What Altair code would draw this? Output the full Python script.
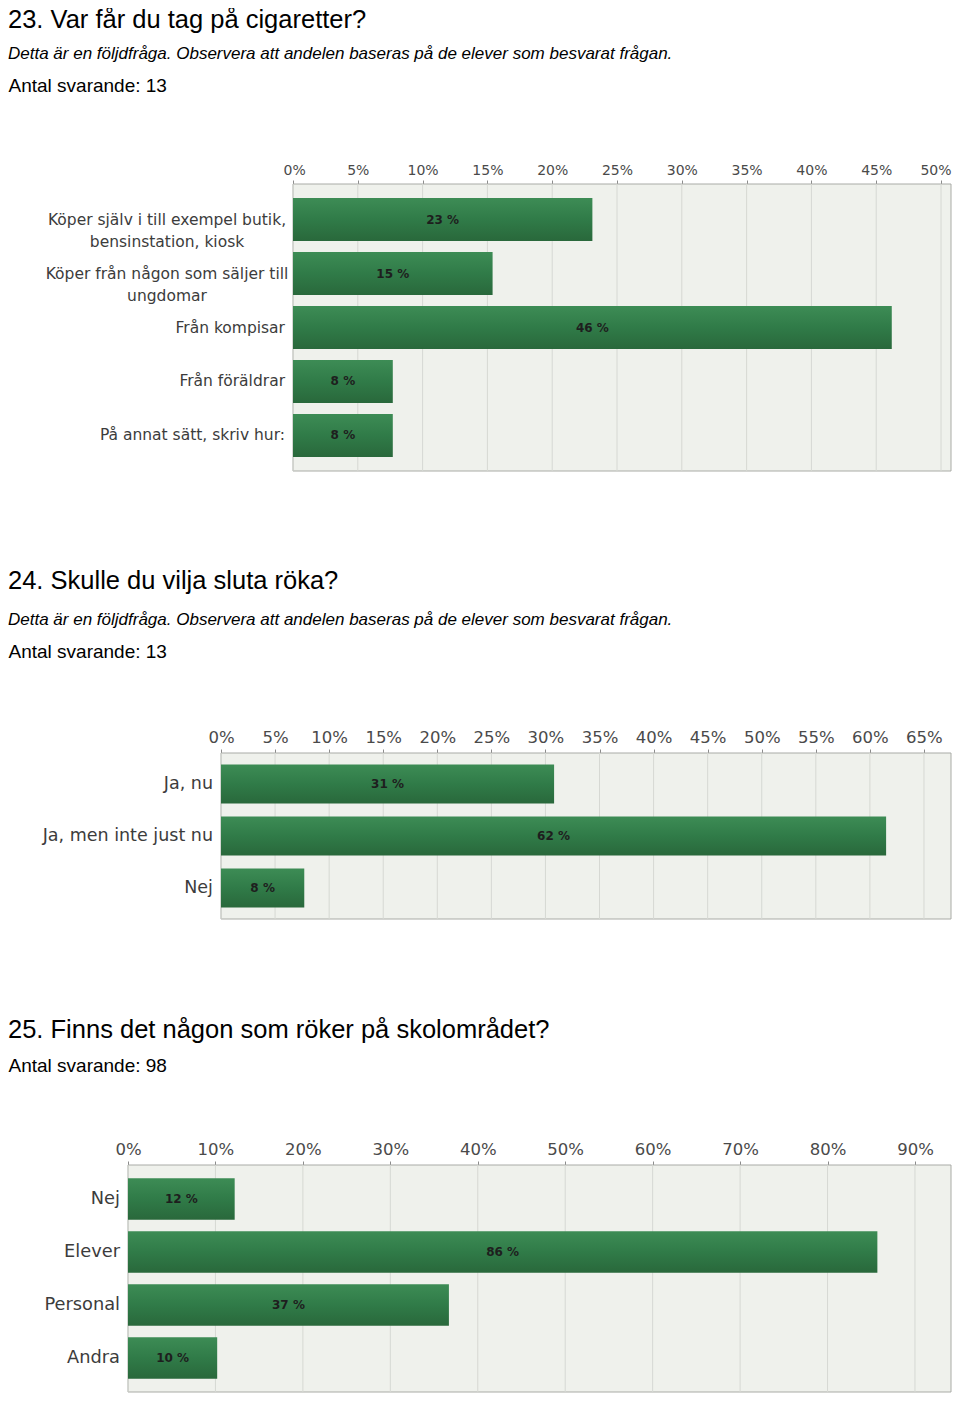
import altair as alt
import pandas as pd

# ---------------- data ----------------
q23_title = "23. Var får du tag på cigaretter?"
q23_note = "Detta är en följdfråga. Observera att andelen baseras på de elever som besvarat frågan."
q23_count = "Antal svarande: 13"
q23_categories = [
    "Köper själv i till exempel butik, bensinstation, kiosk",
    "Köper från någon som säljer till ungdomar",
    "Från kompisar",
    "Från föräldrar",
    "På annat sätt, skriv hur:",
]
q23_values = [23.1, 15.4, 46.2, 7.7, 7.7]
q23_ticks = [0, 5, 10, 15, 20, 25, 30, 35, 40, 45, 50]

q24_title = "24. Skulle du vilja sluta röka?"
q24_note = "Detta är en följdfråga. Observera att andelen baseras på de elever som besvarat frågan."
q24_count = "Antal svarande: 13"
q24_categories = ["Ja, nu", "Ja, men inte just nu", "Nej"]
q24_values = [30.8, 61.5, 7.7]
q24_ticks = [0, 5, 10, 15, 20, 25, 30, 35, 40, 45, 50, 55, 60, 65]

q25_title = "25. Finns det någon som röker på skolområdet?"
q25_count = "Antal svarande: 98"
q25_categories = ["Nej", "Elever", "Personal", "Andra"]
q25_values = [12.2, 85.7, 36.7, 10.2]
q25_ticks = [0, 10, 20, 30, 40, 50, 60, 70, 80, 90]

q23_label_lines = {
    q23_categories[0]: ["Köper själv i till exempel butik,", "bensinstation, kiosk"],
    q23_categories[1]: ["Köper från någon som säljer till", "ungdomar"],
}

# ---------------- styles ----------------
TITLE_FONT = "Liberation Sans, Arial, sans-serif"
AXIS_FONT = "DejaVu Sans, Verdana, sans-serif"
TOTAL_W = 943  # all panels share the same group origin / width

bar_fill = alt.Gradient(
    gradient="linear",
    stops=[
        alt.GradientStop(color="#3d8c55", offset=0),
        alt.GradientStop(color="#307b48", offset=0.5),
        alt.GradientStop(color="#29683b", offset=1),
    ],
    x1=0, x2=0, y1=0, y2=1,
)


def make_chart(title, note, count, cats, vals, ticks, xmax, plot_left, height,
               pad_inner, pad_outer, ylab_size, xlab_size, xlab_pad,
               title_y, sub_pad, offset, label_map=None, multi_dx=-126,
               flush=False):
    label_map = label_map or {}
    lines = [label_map.get(c, [c]) for c in cats]
    df = pd.DataFrame({
        "cat": cats,
        "pct": vals,
        "lines": lines,
        "multi": [len(l) > 1 for l in lines],
    })
    panel_df = pd.DataFrame({"start": [0.0], "end": [xmax]})
    tick_df = pd.DataFrame({"t": ticks})

    x_scale = alt.Scale(domain=[0, xmax], nice=False, zero=True,
                        range=[plot_left - 8, TOTAL_W])
    y_scale = alt.Scale(paddingInner=pad_inner, paddingOuter=pad_outer)
    flush_kwargs = dict(labelFlush=13, labelFlushOffset=10) if flush else dict(labelFlush=False)
    x_axis = alt.Axis(
        orient="top", values=ticks, labelExpr="datum.value + '%'",
        title=count, titleX=0, titleY=title_y, titleAlign="left",
        titleBaseline="middle", titleFont=TITLE_FONT, titleFontSize=19,
        titleFontWeight="normal", titleColor="#000000", titleAngle=0,
        grid=False, ticks=True, tickSize=4, tickColor="#8c8c8c", domain=False,
        labelFont=AXIS_FONT, labelFontSize=xlab_size, labelColor="#4a4a4a",
        labelPadding=xlab_pad, labelOverlap=False, **flush_kwargs,
    )
    y_enc = alt.Y("cat:N", sort=cats, scale=y_scale, axis=None)

    panel = alt.Chart(panel_df).mark_rect(
        fill="#eff1ec", stroke="#a9aba6", strokeWidth=1
    ).encode(
        x=alt.X("start:Q", scale=x_scale, axis=x_axis),
        x2="end:Q",
    )
    grid = alt.Chart(tick_df).mark_rule(color="#d6d8d3", strokeWidth=1).encode(
        x=alt.X("t:Q", scale=x_scale, axis=x_axis),
    )
    base = alt.Chart(df).transform_calculate(
        mid="datum.pct / 2",
        label="round(datum.pct) + ' %'",
    )
    bars = base.mark_bar(color=bar_fill).encode(
        x=alt.X("pct:Q", scale=x_scale, axis=x_axis),
        y=y_enc,
    )
    values = base.mark_text(
        font=AXIS_FONT, fontSize=12, fontWeight="bold", color="#1e1e1e",
        baseline="middle", align="center",
    ).encode(
        x=alt.X("mid:Q", scale=x_scale, axis=x_axis),
        y=y_enc,
        text="label:N",
    )
    cat_single = base.transform_filter("!datum.multi").mark_text(
        font=AXIS_FONT, fontSize=ylab_size, color="#3c3c3c",
        baseline="middle", align="right", dx=-8,
    ).encode(
        x=alt.datum(0, scale=x_scale, axis=x_axis),
        y=y_enc,
        text="cat:N",
    )
    layers = [panel, grid, bars, values, cat_single]
    if any(df["multi"]):
        cat_multi = base.transform_filter("datum.multi").mark_text(
            font=AXIS_FONT, fontSize=ylab_size, color="#3c3c3c",
            baseline="middle", align="center", dx=multi_dx, lineHeight=22,
        ).encode(
            x=alt.datum(0, scale=x_scale, axis=x_axis),
            y=y_enc,
            text="lines:N",
        )
        layers.append(cat_multi)

    title_kwargs = dict(
        text=title, anchor="start", frame="bounds", font=TITLE_FONT,
        fontSize=25.5, fontWeight="normal", color="#000000", offset=offset,
    )
    if note:
        title_kwargs.update(
            subtitle=note, subtitleFont=TITLE_FONT, subtitleFontSize=17,
            subtitleFontStyle="italic", subtitleColor="#000000",
            subtitlePadding=sub_pad,
        )
    return alt.layer(*layers).properties(
        width=TOTAL_W, height=height, title=alt.TitleParams(**title_kwargs)
    )


c1 = make_chart(q23_title, q23_note, q23_count, q23_categories, q23_values, q23_ticks,
                50.77, 293, 287, 0.204, 0.26, 15.5, 14, 3, -99, 12.2, 14,
                q23_label_lines, flush=True)
c2 = make_chart(q24_title, q24_note, q24_count, q24_categories, q24_values, q24_ticks,
                67.5, 221, 166, 0.25, 0.221, 17.5, 16.5, 4, -102, 17.2, 14)
c3 = make_chart(q25_title, None, q25_count, q25_categories, q25_values, q25_ticks,
                94.12, 128, 227, 0.217, 0.25, 17.8, 16.5, 4, -100, 0, 13)

chart = alt.vconcat(c1, c2, c3, spacing=97).properties(
    padding=0, background="#ffffff"
).configure_view(fill=None, stroke=None)

chart.save("out.html", embed_options={"renderer": "svg", "actions": False})
